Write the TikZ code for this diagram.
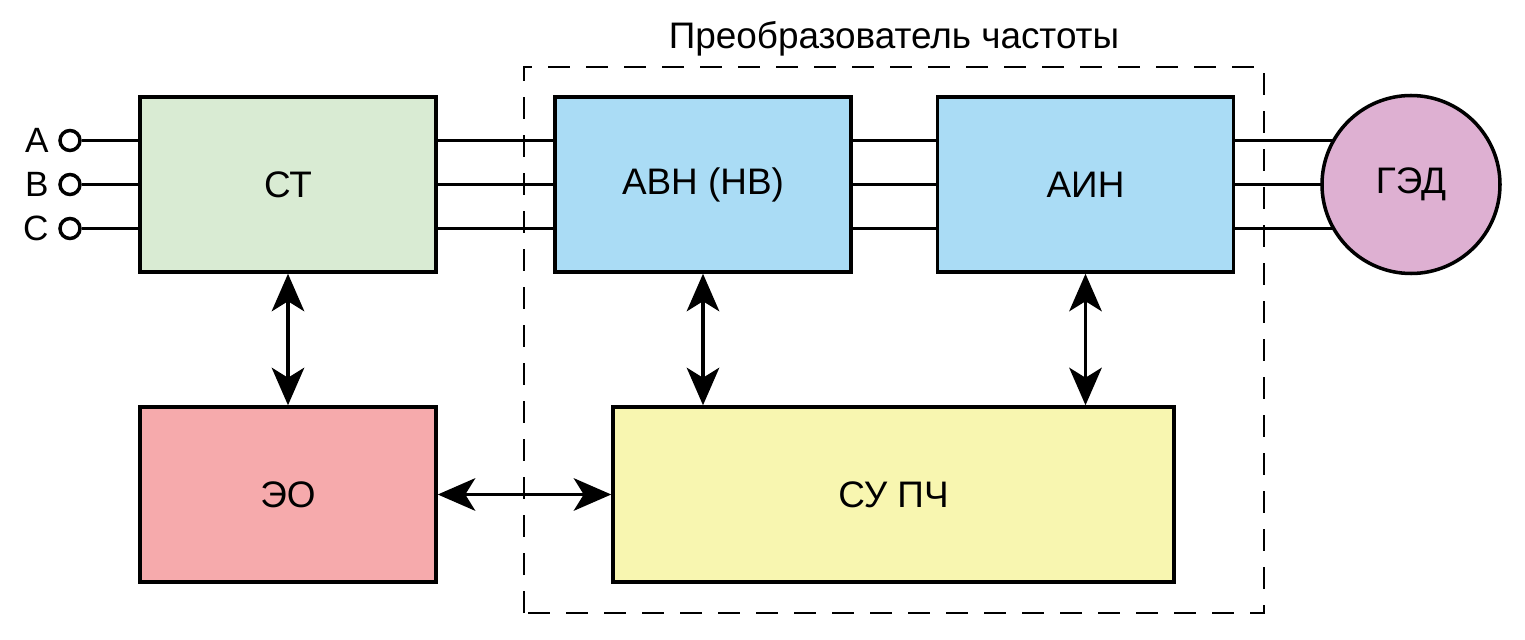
\documentclass[tikz,border=0pt]{standalone}
\usepackage{fontspec}
\setmainfont{Liberation Sans}
\usetikzlibrary{arrows.meta}

\definecolor{stgreen}{RGB}{217,235,211}
\definecolor{pchblue}{RGB}{170,220,245}
\definecolor{eopink}{RGB}{246,170,172}
\definecolor{suyellow}{RGB}{248,246,176}
\definecolor{gedviolet}{RGB}{222,176,210}

\begin{document}
\begin{tikzpicture}[
  box/.style={draw, line width=2pt, align=center, font=\fontsize{21}{25}\selectfont, minimum width=5.92cm, minimum height=3.5cm},
  motor/.style={draw, circle, line width=2pt, font=\fontsize{21}{25}\selectfont, minimum size=3.56cm, fill=gedviolet},
  terminal/.style={draw, circle, line width=2pt, minimum size=0.4cm, inner sep=0pt},
  wire/.style={line width=2pt},
  arrow/.style={{Stealth[length=7.5mm,width=6.5mm,inset=2mm]}-{Stealth[length=7.5mm,width=6.5mm,inset=2mm]}, line width=2pt}
]
\useasboundingbox (0,0) rectangle (30.5,12.78);

% frequency converter frame
\draw[line width=1pt, dash pattern=on 0.44cm off 0.32cm] (10.48,0.52) rectangle (25.28,11.44);
\node[font=\fontsize{21}{25}\selectfont] (title) at (17.88,12.0) {Преобразователь частоты};

\node[box, fill=stgreen] (st) at (5.76,9.09) {СТ};
\node[box, fill=pchblue] (avn) at (14.06,9.09) {АВН (НВ)};
\node[box, fill=pchblue] (ain) at (21.71,9.09) {АИН};
\node[box, fill=eopink] (eo) at (5.76,2.89) {ЭО};
\node[box, fill=suyellow, minimum width=11.22cm] (su) at (17.87,2.89) {СУ ПЧ};
\coordinate (gedc) at (28.22,9.09);

% supply terminals
\node[terminal] (tA) at (1.4,9.97) {};
\node[terminal] (tB) at (1.4,9.09) {};
\node[terminal] (tC) at (1.4,8.21) {};
\node[font=\fontsize{20}{24}\selectfont, left=2pt] (lA) at (tA.west) {A};
\node[font=\fontsize{20}{24}\selectfont, left=2pt] (lB) at (tB.west) {B};
\node[font=\fontsize{20}{24}\selectfont, left=2pt] (lC) at (tC.west) {C};

\draw[wire] (tA.east) -- (tA.east -| st.west);
\draw[wire] (tB.east) -- (tB.east -| st.west);
\draw[wire] (tC.east) -- (tC.east -| st.west);

\foreach \s in {-0.88,0,0.88}{
  \draw[wire] ([yshift=\s cm]st.east) -- ([yshift=\s cm]avn.west);
  \draw[wire] ([yshift=\s cm]avn.east) -- ([yshift=\s cm]ain.west);
  \draw[wire] ([yshift=\s cm]ain.east) -- ([yshift=\s cm]ain.east -| gedc);
}
% motor drawn over the wire ends
\node[motor] (ged) at (gedc) {ГЭД};

\draw[arrow] (st.south) -- (eo.north);
\draw[arrow] (avn.south) -- (avn.south |- su.north);
\draw[arrow] (ain.south) -- (ain.south |- su.north);
\draw[arrow] (eo.east) -- (su.west);
\end{tikzpicture}
\end{document}
